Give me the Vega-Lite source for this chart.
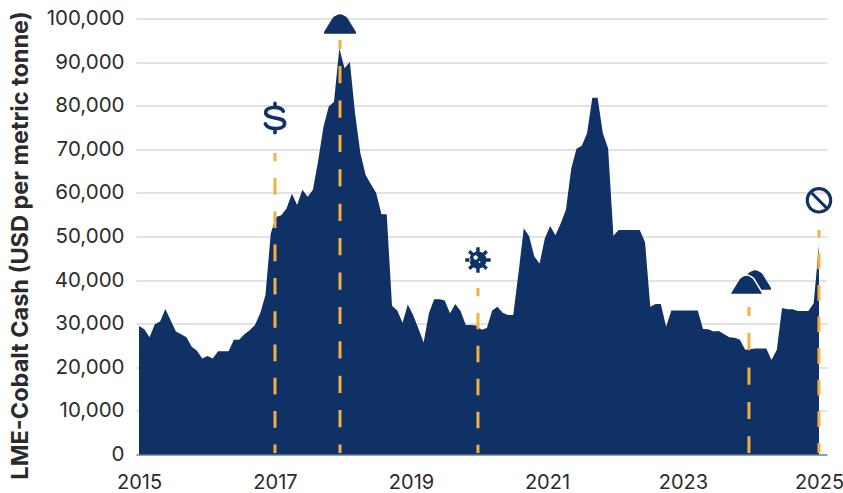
{"$schema":"https://vega.github.io/schema/vega-lite/v6.json","width":691,"height":436,"autosize":{"type":"none"},"padding":{"left":136,"top":18.5,"right":16,"bottom":38.5},"background":"white","config":{"view":{"stroke":null},"font":"Inter"},"datasets":{"prices":[{"year":2015.000,"price":29470},{"year":2015.078,"price":28700},{"year":2015.155,"price":26900},{"year":2015.233,"price":29900},{"year":2015.310,"price":30500},{"year":2015.388,"price":33400},{"year":2015.465,"price":30800},{"year":2015.543,"price":28200},{"year":2015.620,"price":27600},{"year":2015.698,"price":26900},{"year":2015.775,"price":24700},{"year":2015.853,"price":23800},{"year":2015.930,"price":22000},{"year":2016.008,"price":22600},{"year":2016.085,"price":22000},{"year":2016.163,"price":23700},{"year":2016.240,"price":23700},{"year":2016.318,"price":23700},{"year":2016.395,"price":26300},{"year":2016.473,"price":26300},{"year":2016.550,"price":27600},{"year":2016.628,"price":28500},{"year":2016.705,"price":29700},{"year":2016.783,"price":32400},{"year":2016.860,"price":36600},{"year":2016.938,"price":50700},{"year":2017.016,"price":54500},{"year":2017.093,"price":54900},{"year":2017.171,"price":56500},{"year":2017.248,"price":59800},{"year":2017.326,"price":57200},{"year":2017.403,"price":60700},{"year":2017.481,"price":59100},{"year":2017.558,"price":60700},{"year":2017.636,"price":67500},{"year":2017.713,"price":75200},{"year":2017.791,"price":79800},{"year":2017.868,"price":80900},{"year":2017.946,"price":93200},{"year":2018.023,"price":88600},{"year":2018.101,"price":90000},{"year":2018.178,"price":78200},{"year":2018.256,"price":69100},{"year":2018.333,"price":64100},{"year":2018.411,"price":62000},{"year":2018.488,"price":60000},{"year":2018.566,"price":55100},{"year":2018.643,"price":55100},{"year":2018.721,"price":34100},{"year":2018.798,"price":33000},{"year":2018.876,"price":30200},{"year":2018.953,"price":34400},{"year":2019.031,"price":32000},{"year":2019.109,"price":28900},{"year":2019.186,"price":25700},{"year":2019.264,"price":32400},{"year":2019.341,"price":35600},{"year":2019.419,"price":35600},{"year":2019.496,"price":35300},{"year":2019.574,"price":32400},{"year":2019.651,"price":34500},{"year":2019.729,"price":32900},{"year":2019.806,"price":29700},{"year":2019.884,"price":29700},{"year":2019.961,"price":29600},{"year":2020.039,"price":28600},{"year":2020.116,"price":29000},{"year":2020.194,"price":33000},{"year":2020.271,"price":33900},{"year":2020.349,"price":32500},{"year":2020.426,"price":32000},{"year":2020.504,"price":32000},{"year":2020.581,"price":41600},{"year":2020.659,"price":51900},{"year":2020.736,"price":50100},{"year":2020.814,"price":45400},{"year":2020.891,"price":43800},{"year":2020.969,"price":49600},{"year":2021.047,"price":52400},{"year":2021.124,"price":50300},{"year":2021.202,"price":53000},{"year":2021.279,"price":56200},{"year":2021.357,"price":65600},{"year":2021.434,"price":70100},{"year":2021.512,"price":70800},{"year":2021.589,"price":73700},{"year":2021.667,"price":81800},{"year":2021.744,"price":81800},{"year":2021.822,"price":73700},{"year":2021.899,"price":70200},{"year":2021.977,"price":50200},{"year":2022.054,"price":51500},{"year":2022.132,"price":51500},{"year":2022.209,"price":51500},{"year":2022.287,"price":51500},{"year":2022.364,"price":51500},{"year":2022.442,"price":48700},{"year":2022.519,"price":33900},{"year":2022.597,"price":34500},{"year":2022.674,"price":34500},{"year":2022.752,"price":29300},{"year":2022.829,"price":33000},{"year":2022.907,"price":33000},{"year":2022.984,"price":33000},{"year":2023.062,"price":33000},{"year":2023.140,"price":33000},{"year":2023.217,"price":33000},{"year":2023.295,"price":28800},{"year":2023.372,"price":28700},{"year":2023.450,"price":28200},{"year":2023.527,"price":28300},{"year":2023.605,"price":27600},{"year":2023.682,"price":26900},{"year":2023.760,"price":26800},{"year":2023.837,"price":26300},{"year":2023.915,"price":24000},{"year":2023.992,"price":24200},{"year":2024.070,"price":24300},{"year":2024.147,"price":24300},{"year":2024.225,"price":24300},{"year":2024.302,"price":21700},{"year":2024.380,"price":24000},{"year":2024.457,"price":33600},{"year":2024.535,"price":33300},{"year":2024.612,"price":33300},{"year":2024.690,"price":32900},{"year":2024.767,"price":32900},{"year":2024.845,"price":32900},{"year":2024.922,"price":34700},{"year":2025.000,"price":48000}],"events":[{"event":"a","year":2017.0,"top":69150},{"event":"b","year":2017.956,"top":95070},{"event":"c","year":2019.985,"top":38190},{"event":"d","year":2023.97,"top":33830},{"event":"e","year":2025.0,"top":51490}]},"layer":[{"data":{"name":"prices"},"mark":{"type":"area","color":"#0F3166","interpolate":"linear"},"encoding":{"x":{"field":"year","type":"quantitative","scale":{"domain":[2014.956,2025.118],"nice":false,"zero":false},"axis":{"values":[2015,2017,2019,2021,2023,2025],"format":"d","grid":false,"ticks":false,"domain":true,"domainColor":"#3E5C8A","domainWidth":1,"labelFontSize":20,"labelColor":"#2B2B2B","labelPadding":18,"title":null}},"y":{"field":"price","type":"quantitative","scale":{"domain":[0,100000],"nice":false},"axis":{"values":[0,10000,20000,30000,40000,50000,60000,70000,80000,90000,100000],"format":",d","grid":true,"gridColor":"#D9D9D9","gridWidth":1.5,"ticks":false,"domain":false,"labelFontSize":20.5,"labelColor":"#2B2B2B","labelPadding":12,"title":"LME-Cobalt Cash (USD per metric tonne)","titleFontSize":23.5,"titleFontWeight":"bold","titleColor":"#2B2B2B","titleX":-104,"titleY":226.5}}}},{"data":{"name":"events"},"mark":{"type":"rule","color":"#F4B13F","strokeWidth":3,"strokeDashOffset":8.3},"encoding":{"x":{"field":"year","type":"quantitative"},"y":{"field":"top","type":"quantitative"},"y2":{"datum":350},"strokeDash":{"field":"event","type":"nominal","legend":null,"scale":{"domain":["a","b","c","d","e"],"range":[[16.65,16.65],[17.2,17.2],[16.5,16.5],[17.2,17.2],[15.8,15.8]]}}}},{"data":{"values":[{"year":2017.0,"value":77200}]},"mark":{"type":"point","filled":false,"opacity":1,"color":"#0F3166","size":1024,"strokeWidth":3.6,"strokeCap":"round","shape":"M0.52,-0.42 C0.38,-0.72 -0.58,-0.78 -0.58,-0.32 C-0.58,0.12 0.6,-0.12 0.6,0.33 C0.6,0.78 -0.42,0.76 -0.6,0.38 M0,-0.92 L0,-0.66 M0,0.66 L0,0.92"},"encoding":{"x":{"field":"year","type":"quantitative"},"y":{"field":"value","type":"quantitative"}}},{"data":{"values":[{"year":2017.956,"value":98700},{"year":2024.06,"value":40000}]},"mark":{"type":"point","filled":true,"opacity":1,"color":"#0F3166","size":1024,"strokeWidth":0,"shape":"M-0.95,0.6 L0.95,0.6 Q1.05,0.6 0.97,0.45 L0.45,-0.4 Q0.2,-0.62 0,-0.62 Q-0.2,-0.62 -0.45,-0.4 L-0.97,0.45 Q-1.05,0.6 -0.95,0.6Z"},"encoding":{"x":{"field":"year","type":"quantitative"},"y":{"field":"value","type":"quantitative"}}},{"data":{"values":[{"year":2023.934,"value":38900}]},"mark":{"type":"point","filled":true,"opacity":1,"color":"#0F3166","stroke":"white","strokeWidth":1.5,"size":1024,"shape":"M-0.95,0.6 L0.95,0.6 Q1.05,0.6 0.97,0.45 L0.45,-0.4 Q0.2,-0.62 0,-0.62 Q-0.2,-0.62 -0.45,-0.4 L-0.97,0.45 Q-1.05,0.6 -0.95,0.6Z"},"encoding":{"x":{"field":"year","type":"quantitative"},"y":{"field":"value","type":"quantitative"}}},{"data":{"values":[{"year":2019.985,"value":44600}]},"mark":{"type":"point","filled":true,"opacity":1,"color":"#0F3166","size":676,"strokeWidth":0,"shape":"M-0.66,0 A0.66,0.66 0 1,1 0.66,0 A0.66,0.66 0 1,1 -0.66,0Z M-0.35,-0.2 A0.17,0.17 0 1,0 -0.01,-0.2 A0.17,0.17 0 1,0 -0.35,-0.2Z M0.05,0.15 A0.07,0.07 0 1,0 0.19,0.15 A0.07,0.07 0 1,0 0.05,0.15Z M-0.13,-0.98 L0.13,-0.98 L0.13,-0.58 L-0.13,-0.58Z M0.58,-0.13 L0.98,-0.13 L0.98,0.13 L0.58,0.13Z M0.13,0.98 L-0.13,0.98 L-0.13,0.58 L0.13,0.58Z M-0.98,0.13 L-0.58,0.13 L-0.58,-0.13 L-0.98,-0.13Z M0.58,-0.764 L0.764,-0.58 L0.481,-0.297 L0.297,-0.481Z M0.764,0.58 L0.58,0.764 L0.297,0.481 L0.481,0.297Z M-0.58,0.764 L-0.764,0.58 L-0.481,0.297 L-0.297,0.481Z M-0.764,-0.58 L-0.58,-0.764 L-0.297,-0.481 L-0.481,-0.297Z"},"encoding":{"x":{"field":"year","type":"quantitative"},"y":{"field":"value","type":"quantitative"}}},{"data":{"values":[{"year":2025.0,"value":58300}]},"mark":{"type":"point","filled":true,"opacity":1,"color":"#0F3166","size":708,"strokeWidth":0,"shape":"M-1,0 A1,1 0 1,1 1,0 A1,1 0 1,1 -1,0Z M-0.76,0 A0.76,0.76 0 1,0 0.76,0 A0.76,0.76 0 1,0 -0.76,0Z M-0.488,-0.644 L0.644,0.488 L0.488,0.644 L-0.644,-0.488Z"},"encoding":{"x":{"field":"year","type":"quantitative"},"y":{"field":"value","type":"quantitative"}}}]}
